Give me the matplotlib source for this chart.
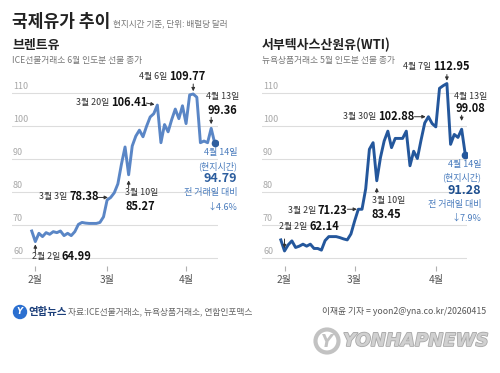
import numpy as np
import pandas as pd
import matplotlib
matplotlib.use("Agg")
import matplotlib.pyplot as plt
from matplotlib import transforms, patheffects
from matplotlib.patches import Circle

plt.rcParams['font.family'] = ['Noto Sans CJK KR', 'DejaVu Sans']

W, H = 500, 373

# trading days (ICE Brent closed on Good Friday, NYMEX settles no price on Presidents' Day)
all_days = pd.bdate_range("2026-01-30", "2026-04-14")
brent_days = all_days[all_days != "2026-04-03"]
wti_days = brent_days[brent_days != "2026-02-16"]

brent = [68.2, 64.99, 67.5, 66.5, 67.7, 67.2, 68.0, 67.7, 68.2, 66.8,
         67.5, 66.8, 68.0, 70.2, 70.8, 70.6, 70.5, 70.5, 70.5, 70.8,
         72.5, 77.6, 78.38, 79.8, 82.5, 88.5, 93.7, 85.27, 94.0, 97.0,
         98.8, 96.8, 100.0, 102.8, 103.8, 106.41, 95.0, 100.5, 98.3, 102.0,
         105.2, 102.3, 106.2, 100.8, 109.5, 109.77, 108.8, 95.0, 95.5, 95.0,
         99.36, 94.79]

wti = [65.5, 62.14, 64.0, 65.2, 63.2, 63.6, 64.2, 63.6, 64.2, 62.9,
       62.9, 62.4, 65.3, 66.5, 66.5, 66.5, 66.2, 65.8, 65.5, 67.3,
       71.23, 74.8, 74.8, 81.0, 93.0, 95.0, 83.45, 90.5, 95.5, 98.5,
       93.5, 96.3, 96.3, 96.3, 98.5, 88.0, 92.4, 90.2, 95.8, 101.0,
       102.88, 100.8, 99.8, 111.5, 112.3, 112.95, 94.5, 97.5, 96.6, 99.08,
       91.28]

assert len(brent) == len(brent_days) and len(wti) == len(wti_days)

y_ticks = [60, 70, 80, 90, 100, 110]
month_labels = ['2월', '3월', '4월']

BRENT_C = '#5a86c6'
WTI_C = '#24579c'
BLUE_TXT = '#4a7cbd'
DARK = '#222222'

fig = plt.figure(figsize=(W / 100, H / 100), dpi=100)
fig.patch.set_facecolor('white')


def make_axes(left_px, width_px, xlim):
    ax = fig.add_axes([left_px / W, 1 - 266 / H, width_px / W, 196 / H])
    ax.set_xlim(*xlim)
    ax.set_ylim(57.58, 117.06)
    for s in ax.spines.values():
        s.set_visible(False)
    ax.set_yticks([])
    trans = transforms.offset_copy(
        transforms.blended_transform_factory(ax.transAxes, ax.transData),
        fig=fig, x=1, y=2, units='dots')
    for v in y_ticks:
        ax.axhline(v, color='#dddddd', lw=0.8, zorder=1)
        ax.text(0, v, str(v), transform=trans, ha='left', va='bottom',
                fontsize=6.5, color='#a8a8a8')
    return ax


def month_ticks(ax, days):
    pos = [int(np.argmax(days.month == m)) for m in (2, 3, 4)]
    ax.set_xticks(pos)
    ax.set_xticklabels(month_labels)
    ax.tick_params(axis='x', length=3.6, width=0.8, color='#b0b0b0',
                   labelsize=7.3, labelcolor='#555555', pad=3)


def arrow(ax, i, v, dx, dy, gap=2):
    ax.annotate('', xy=(i, v), xytext=(dx, dy), textcoords='offset pixels',
                arrowprops=dict(arrowstyle='-|>', color='#333333', lw=0.7,
                                mutation_scale=5, shrinkA=0, shrinkB=gap))


ax1 = make_axes(12, 206, (-5.5, 51.9))
ax1.plot(range(len(brent)), brent, color=BRENT_C, lw=2.1, zorder=3)
ax1.plot(len(brent) - 1, brent[-1], 'o', color='#2f5f9f', ms=4.5, zorder=4)
month_ticks(ax1, brent_days)

ax2 = make_axes(262, 205, (-5.1, 50.45))
ax2.plot(range(len(wti)), wti, color=WTI_C, lw=2.1, zorder=3)
ax2.plot(len(wti) - 1, wti[-1], 'o', color=WTI_C, ms=4.5, zorder=4)
month_ticks(ax2, wti_days)

# arrows to labelled points
b = {d.strftime('%m-%d'): k for k, d in enumerate(brent_days)}
w = {d.strftime('%m-%d'): k for k, d in enumerate(wti_days)}
arrow(ax1, b['04-06'], brent[b['04-06']], 0, 10)
arrow(ax1, b['03-20'], brent[b['03-20']], -11, 2)
arrow(ax1, b['04-13'], brent[b['04-13']], 0, 11, gap=3)
arrow(ax1, b['03-03'], brent[b['03-03']], -13, 0)
arrow(ax1, b['03-10'], brent[b['03-10']], 0, -13, gap=4)
arrow(ax1, b['02-02'], brent[b['02-02']], 0, -11, gap=2)

arrow(ax2, w['04-07'], wti[w['04-07']], 0, 9)
arrow(ax2, w['03-30'], wti[w['03-30']], -14, 0)
arrow(ax2, w['04-13'], wti[w['04-13']], 0, 14, gap=6)
arrow(ax2, w['03-10'], wti[w['03-10']], 0, -12, gap=5)
# the original points at the flat step just after 2 March
arrow(ax2, w['03-03'], wti[w['03-03']], -11, 0, gap=1)
arrow(ax2, w['02-02'], wti[w['02-02']], 0, 12, gap=2)

# overlay in pixel coordinates for all text
ov = fig.add_axes([0, 0, 1, 1], zorder=5)
ov.set_xlim(0, W)
ov.set_ylim(H, 0)
ov.axis('off')
ov.patch.set_alpha(0)


def pair(x, y, date, value):
    ov.text(x, y, date, ha='right', va='center', fontsize=6.4, color='#333333')
    ov.text(x + 2, y, value, ha='left', va='center', fontsize=8,
            fontweight='bold', color='#111111')


def end_note(x, y0, date, value, change, vcol):
    ov.text(x, y0, date, ha='right', va='center', fontsize=6.5, color=BLUE_TXT)
    ov.text(x, y0 + 13, '(현지시간)', ha='right', va='center', fontsize=6.5, color=BLUE_TXT)
    ov.text(x, y0 + 26, value, ha='right', va='center', fontsize=9,
            fontweight='bold', color=vcol)
    ov.text(x, y0 + 40, '전 거래일 대비', ha='right', va='center', fontsize=6.5, color=BLUE_TXT)
    ov.text(x, y0 + 54, change, ha='right', va='center', fontsize=6.5, color=BLUE_TXT)


# header
ov.text(12, 22, '국제유가 추이', ha='left', va='center', fontsize=12.3,
        fontweight='bold', color=DARK)
ov.text(113, 24, '현지시간 기준, 단위: 배럴당 달러', ha='left', va='center',
        fontsize=6.2, color='#777777')
ov.text(12, 45, '브렌트유', ha='left', va='center', fontsize=9.3,
        fontweight='bold', color=DARK)
ov.text(12, 61, 'ICE선물거래소 6월 인도분 선물 종가', ha='left', va='center',
        fontsize=6.3, color='#777777')
ov.text(262, 45, '서부텍사스산원유(WTI)', ha='left', va='center', fontsize=9.3,
        fontweight='bold', color=DARK)
ov.text(262, 61, '뉴욕상품거래소 5월 인도분 선물 종가', ha='left', va='center',
        fontsize=6.3, color='#777777')

# brent labels
pair(167, 77, '4월 6일', '109.77')
pair(109, 103, '3월 20일', '106.41')
ov.text(223, 97, '4월 13일', ha='center', va='center', fontsize=6.4, color='#333333')
ov.text(222, 110, '99.36', ha='center', va='center', fontsize=8,
        fontweight='bold', color='#111111')
pair(67, 197, '3월 3일', '78.38')
ov.text(125, 193, '3월 10일', ha='left', va='center', fontsize=6.4, color='#333333')
ov.text(125, 206, '85.27', ha='left', va='center', fontsize=8,
        fontweight='bold', color='#111111')
pair(60, 257, '2월 2일', '64.99')
end_note(237, 153, '4월 14일', '94.79', '↓4.6%', '#2d5e9e')

# wti labels
pair(431, 67, '4월 7일', '112.95')
pair(376, 117, '3월 30일', '102.88')
ov.text(471, 96, '4월 13일', ha='center', va='center', fontsize=6.4, color='#333333')
ov.text(470, 109, '99.08', ha='center', va='center', fontsize=8,
        fontweight='bold', color='#111111')
ov.text(372, 201, '3월 10일', ha='left', va='center', fontsize=6.4, color='#333333')
ov.text(372, 214, '83.45', ha='left', va='center', fontsize=8,
        fontweight='bold', color='#111111')
pair(316, 211, '3월 2일', '71.23')
pair(307, 227, '2월 2일', '62.14')
end_note(481, 164, '4월 14일', '91.28', '↓7.9%', '#1e4f8f')

# footer
ov.add_patch(Circle((20, 312), 6.5, color='#2b6fd0'))
ov.text(20, 312, 'Y', ha='center', va='center', fontsize=6, fontweight='bold',
        fontstyle='italic', color='white', family='DejaVu Sans')
ov.text(28, 312, '연합뉴스', ha='left', va='center', fontsize=7.5,
        fontweight='bold', color='#1c3f7a')
ov.text(68, 312, '자료:ICE선물거래소, 뉴욕상품거래소, 연합인포맥스', ha='left',
        va='center', fontsize=6.3, color='#666666')
ov.text(486, 312, '이재윤 기자 = yoon2@yna.co.kr/20260415', ha='right',
        va='center', fontsize=6.3, color='#555555')

# watermark
ov.add_patch(Circle((327, 341), 11.5, fill=False, ec='#c2c2c2', lw=3))
ov.text(327, 342, 'Y', ha='center', va='center', fontsize=12, fontweight='bold',
        fontstyle='italic', color='#c2c2c2', family='DejaVu Sans')
wm = ov.text(343, 341, 'YONHAPNEWS', ha='left', va='center', fontsize=13,
             fontweight='bold', fontstyle='italic', color='#d0d0d0',
             family='DejaVu Sans')
wm.set_path_effects([patheffects.withStroke(linewidth=1.2, foreground='#a8a8a8')])

fig.savefig('out.png', dpi=100, facecolor='white')
